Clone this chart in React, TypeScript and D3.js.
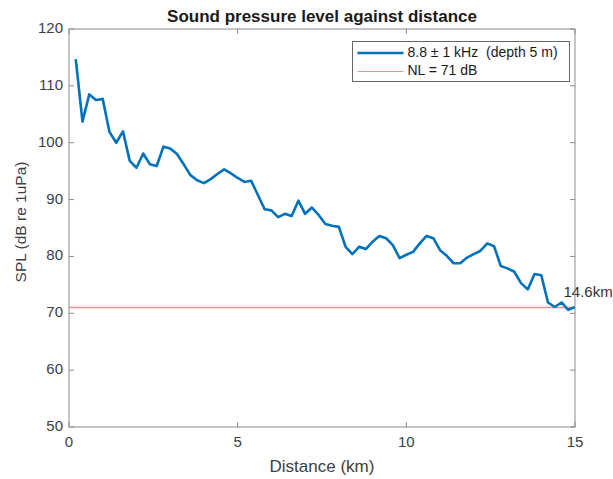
import React from "react";
import * as d3 from "d3";

const WIDTH = 613;
const HEIGHT = 479;
const MARGIN = { left: 69, right: 38, top: 29, bottom: 52 };

const distanceKm = d3.range(1, 76).map((i) => +(i * 0.2).toFixed(1));
const splValues = [
  114.7, 103.7, 108.5, 107.5, 107.7, 101.9, 100.0, 102.0, 96.8, 95.6,
  98.1, 96.2, 95.9, 99.3, 99.0, 98.0, 96.2, 94.3, 93.4, 92.9,
  93.6, 94.5, 95.3, 94.6, 93.8, 93.1, 93.3, 90.8, 88.3, 88.1,
  86.9, 87.5, 87.1, 89.8, 87.5, 88.6, 87.3, 85.7, 85.4, 85.2,
  81.7, 80.4, 81.7, 81.3, 82.6, 83.6, 83.2, 82.0, 79.7, 80.3,
  80.8, 82.3, 83.6, 83.2, 81.1, 80.1, 78.8, 78.8, 79.8, 80.4,
  81.0, 82.3, 81.8, 78.3, 77.9, 77.3, 75.3, 74.2, 76.9, 76.7,
  71.9, 71.1, 71.9, 70.6, 71.1,
];
const noiseLevel = 71;
const xTicks = [0, 5, 10, 15];
const yTicks = [50, 60, 70, 80, 90, 100, 110, 120];
const legendLabels = ["8.8 \u00b1 1 kHz  (depth 5 m)", "NL = 71 dB"];
const annotation = { x: 14.6, y: noiseLevel, text: "14.6km" };

const FONT = "'Liberation Sans', Arial, sans-serif";
const AXIS_COLOR = "#8c8c8c";
const TEXT_COLOR = "#404040";
const NL_COLOR = "#ff8c8c";

export default function App() {
  const innerW = WIDTH - MARGIN.left - MARGIN.right;
  const innerH = HEIGHT - MARGIN.top - MARGIN.bottom;

  const x = d3.scaleLinear().domain([0, 15]).range([0, innerW]);
  const y = d3.scaleLinear().domain([50, 120]).range([innerH, 0]);

  const line = d3
    .line<number>()
    .x((_, i) => x(distanceKm[i]))
    .y((d) => y(d));

  const tickLen = 5;

  return (
    <svg
      width={WIDTH}
      height={HEIGHT}
      style={{ position: "absolute", left: 0, top: 0, background: "#fff" }}
      fontFamily={FONT}
    >
      <text
        x={MARGIN.left + innerW / 2}
        y={22}
        textAnchor="middle"
        fontSize={17}
        fontWeight="bold"
        fill="#1a1a1a"
      >
        Sound pressure level against distance
      </text>
      <g transform={`translate(${MARGIN.left}, ${MARGIN.top})`}>
        {/* noise level line */}
        <line
          x1={0}
          x2={innerW}
          y1={y(noiseLevel)}
          y2={y(noiseLevel)}
          stroke={NL_COLOR}
          strokeWidth={1.5}
        />
        <path
          d={line(splValues) || ""}
          fill="none"
          stroke="#0072BD"
          strokeWidth={2.6}
          strokeLinejoin="round"
        />
        <text
          x={x(annotation.x) + 2}
          y={y(annotation.y) - 11}
          fontSize={15}
          fill="#333"
        >
          {annotation.text}
        </text>

        {/* axes box */}
        <rect
          x={0}
          y={0}
          width={innerW}
          height={innerH}
          fill="none"
          stroke={AXIS_COLOR}
          strokeWidth={1}
        />
        {xTicks.map((t) => (
          <g key={`x${t}`}>
            <line x1={x(t)} x2={x(t)} y1={innerH} y2={innerH - tickLen} stroke={AXIS_COLOR} />
            <line x1={x(t)} x2={x(t)} y1={0} y2={tickLen} stroke={AXIS_COLOR} />
            <text
              x={x(t)}
              y={innerH + 20}
              textAnchor="middle"
              fontSize={15}
              fill={TEXT_COLOR}
            >
              {t}
            </text>
          </g>
        ))}
        {yTicks.map((t) => (
          <g key={`y${t}`}>
            <line x1={0} x2={tickLen} y1={y(t)} y2={y(t)} stroke={AXIS_COLOR} />
            <line x1={innerW} x2={innerW - tickLen} y1={y(t)} y2={y(t)} stroke={AXIS_COLOR} />
            <text
              x={-6}
              y={y(t)}
              textAnchor="end"
              dominantBaseline="middle"
              fontSize={15}
              fill={TEXT_COLOR}
            >
              {t}
            </text>
          </g>
        ))}
        <text
          x={innerW / 2}
          y={innerH + 45}
          textAnchor="middle"
          fontSize={17}
          fill={TEXT_COLOR}
        >
          Distance (km)
        </text>
        <text
          transform={`translate(${-43}, ${innerH / 2 - 6}) rotate(-90)`}
          textAnchor="middle"
          fontSize={15.5}
          fill={TEXT_COLOR}
        >
          SPL (dB re 1uPa)
        </text>

        {/* legend */}
        <g transform={`translate(${352.5 - MARGIN.left}, ${41.5 - MARGIN.top})`}>
          <rect width={217} height={40} fill="#fff" stroke="#666" strokeWidth={1} />
          <line x1={5} x2={51} y1={11.5} y2={11.5} stroke="#0072BD" strokeWidth={2.6} />
          <line x1={5} x2={51} y1={30} y2={30} stroke={NL_COLOR} strokeWidth={1.2} />
          <text
            x={55}
            y={11.5}
            dominantBaseline="middle"
            fontSize={14}
            fill="#1a1a1a"
            style={{ whiteSpace: "pre" }}
          >
            {legendLabels[0]}
          </text>
          <text x={55} y={30} dominantBaseline="middle" fontSize={14} fill="#1a1a1a">
            {legendLabels[1]}
          </text>
        </g>
      </g>
    </svg>
  );
}
